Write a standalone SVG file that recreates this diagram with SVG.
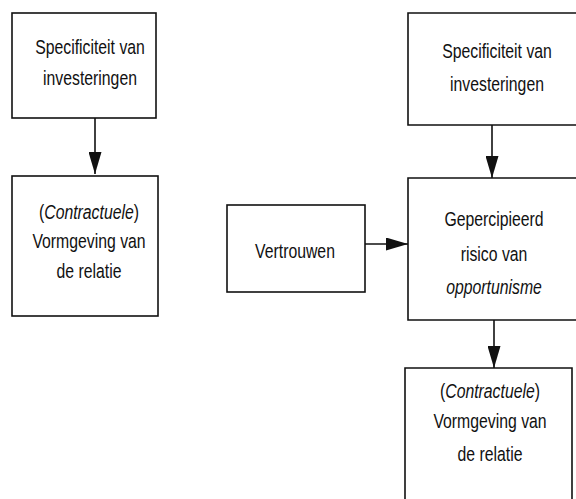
<svg xmlns="http://www.w3.org/2000/svg" width="576" height="499" viewBox="0 0 576 499">
<defs>
<style>
.box{fill:none;stroke:#111;stroke-width:1.6}
.t{font-family:"Liberation Sans",Arial,sans-serif;font-size:19.5px;fill:#111;text-anchor:middle}
.i{font-style:italic}
.c{stroke:#111;stroke-width:1.6;fill:none}
</style>
<marker id="ah" viewBox="0 0 22 13" refX="22" refY="6.5" markerWidth="22" markerHeight="13" markerUnits="userSpaceOnUse" orient="auto">
<path d="M0,0 L22,6.5 L0,13 Z" fill="#111"/>
</marker>
</defs>
<rect width="576" height="499" fill="#fff"/>
<g id="n-spec-left">
<rect class="box" x="12" y="13" width="144" height="105"/>
<text class="t" transform="matrix(0.81 0 0 1 90 0)" x="0" y="54">Specificiteit van</text>
<text class="t" transform="matrix(0.81 0 0 1 90 0)" x="0" y="85">investeringen</text>
</g>
<g id="n-vorm-left">
<rect class="box" x="12" y="176" width="146" height="140"/>
<text class="t" transform="matrix(0.81 0 0 1 89 0)" x="0" y="219">(<tspan class="i">Contractuele</tspan>)</text>
<text class="t" transform="matrix(0.81 0 0 1 89 0)" x="0" y="248">Vormgeving van</text>
<text class="t" transform="matrix(0.81 0 0 1 89 0)" x="0" y="278">de relatie</text>
</g>
<g id="n-spec-right">
<path class="box" d="M577,13 H408 V125 H577"/>
<text class="t" transform="matrix(0.81 0 0 1 497 0)" x="0" y="58">Specificiteit van</text>
<text class="t" transform="matrix(0.81 0 0 1 497 0)" x="0" y="91">investeringen</text>
</g>
<g id="n-vertrouwen">
<rect class="box" x="227" y="205" width="138" height="87"/>
<text class="t" transform="matrix(0.81 0 0 1 295 0)" x="0" y="258">Vertrouwen</text>
</g>
<g id="n-risico">
<path class="box" d="M577,178 H408 V320 H577"/>
<text class="t" transform="matrix(0.81 0 0 1 494 0)" x="0" y="226">Gepercipieerd</text>
<text class="t" transform="matrix(0.81 0 0 1 494 0)" x="0" y="261">risico van</text>
<text class="t i" transform="matrix(0.81 0 0 1 494 0)" x="0" y="294">opportunisme</text>
</g>
<g id="n-vorm-right">
<path class="box" d="M405,500 V368 H572 V500"/>
<text class="t" transform="matrix(0.81 0 0 1 490 0)" x="0" y="398">(<tspan class="i">Contractuele</tspan>)</text>
<text class="t" transform="matrix(0.81 0 0 1 490 0)" x="0" y="428">Vormgeving van</text>
<text class="t" transform="matrix(0.81 0 0 1 490 0)" x="0" y="461">de relatie</text>
</g>
<g id="connectors">
<line class="c" x1="95" y1="118" x2="95" y2="174" marker-end="url(#ah)"/>
<line class="c" x1="492" y1="125" x2="492" y2="178" marker-end="url(#ah)"/>
<line class="c" x1="365" y1="244" x2="408" y2="244" marker-end="url(#ah)"/>
<line class="c" x1="494" y1="320" x2="494" y2="368" marker-end="url(#ah)"/>
</g>
</svg>
